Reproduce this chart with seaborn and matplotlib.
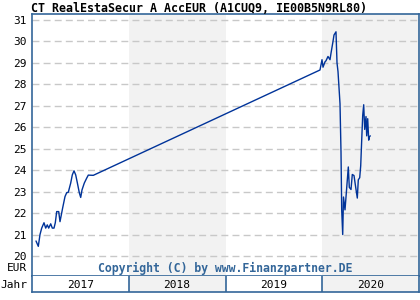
import matplotlib
matplotlib.use("Agg")
import matplotlib.pyplot as plt
import seaborn as sns
import pandas as pd

title = "CT RealEstaSecur A AccEUR (A1CUQ9, IE00B5N9RL80)"
years = ["2017", "2018", "2019", "2020"]
yticks = list(range(20, 32))

# time in fractional years since 2017-01-01
t = [0.0413, 0.0651, 0.0827, 0.1003, 0.1240, 0.1416, 0.1581, 0.1726, 0.1933,
     0.2098, 0.2274, 0.2408, 0.2553, 0.2760, 0.2894, 0.3173, 0.3411, 0.3587,
     0.3752, 0.4000, 0.4165, 0.4341, 0.4517, 0.4682, 0.4889, 0.5034, 0.5168,
     0.5406, 0.5654, 0.5819, 0.6336,
     2.9767, 2.9974, 3.0078, 3.0284, 3.0388, 3.0594, 3.0801, 3.0904, 3.1111,
     3.1214, 3.1421, 3.1525, 3.1628, 3.1835, 3.1938, 3.2010, 3.2114, 3.2196,
     3.2351, 3.2455, 3.2693, 3.2796, 3.2972, 3.3106, 3.3282, 3.3457, 3.3623,
     3.3726, 3.3871, 3.3974, 3.4078, 3.4181, 3.4284, 3.4388, 3.4522, 3.4594,
     3.4698, 3.4801, 3.4863, 3.4966]
price = [20.70, 20.45, 21.00, 21.30, 21.55, 21.30, 21.45, 21.30, 21.50,
         21.30, 21.30, 21.55, 22.07, 22.07, 21.60, 22.25, 22.77, 22.95,
         22.97, 23.40, 23.78, 23.97, 23.78, 23.42, 22.95, 22.73, 23.08,
         23.40, 23.63, 23.77, 23.76,
         28.67, 29.15, 28.80, 29.05, 29.10, 29.30, 29.15, 29.45, 30.00,
         30.30, 30.45, 29.00, 28.60, 27.10, 24.85, 22.15, 21.00, 22.75,
         22.15, 22.75, 24.15, 23.20, 23.10, 23.80, 23.75, 23.20, 22.70,
         23.55, 23.65, 24.20, 25.40, 26.55, 27.05, 25.90, 26.50, 25.60,
         26.40, 25.40, 25.55, 25.60]

df = pd.DataFrame({"t": [2017 + v for v in t], "price": price})

sns.set_theme(style="white")
plt.rcParams["font.family"] = ["DejaVu Sans Mono", "DejaVu Sans"]

frame = "#336699"
shade = "#f2f2f2"

fig = plt.figure(figsize=(4.2, 3.0), dpi=100)
W, H = 420, 300
ax = fig.add_axes([32 / W, 1 - 276 / H, 387 / W, 262 / H])
axb = fig.add_axes([32 / W, 1 - 292 / H, 387 / W, 16 / H])

for a in (ax, axb):
    a.set_xlim(2017, 2021)
    a.axvspan(2018, 2019, color=shade, lw=0, zorder=0)
    a.axvspan(2020, 2021, color=shade, lw=0, zorder=0)
    a.set_facecolor("white")
    for s in a.spines.values():
        s.set_color(frame)
        s.set_linewidth(1.2)

ax.set_ylim(20 - 20 / 21.45, 31 + 6 / 21.45)
for v in yticks:
    ax.axhline(v, color="#c8c8c8", lw=1.0, ls=(0, (5, 3)), zorder=1)

sns.lineplot(data=df, x="t", y="price", ax=ax, sort=False, estimator=None,
             color="#003399", lw=1.0, zorder=3)

ax.set_yticks(yticks)
ax.set_yticklabels([str(v) for v in yticks], fontsize=8, color="black")
ax.tick_params(axis="y", length=0, pad=4)
ax.set_xticks([])
ax.set_xlabel("")
ax.set_ylabel("")

ax.text(-0.012, 20 - 12 / 21.45, "EUR", transform=ax.get_yaxis_transform(),
        ha="right", va="center", fontsize=8, color="black")
ax.text(0.5, 20 - 12 / 21.45, "Copyright (C) by www.Finanzpartner.DE",
        transform=ax.get_yaxis_transform(), ha="center", va="center",
        fontsize=8.3, fontweight="bold", color="#336699", zorder=4)

axb.set_ylim(0, 1)
axb.set_yticks([])
axb.set_xticks([])
for i, y in enumerate(years):
    axb.text(2017.5 + i, 0.45, y, ha="center", va="center", fontsize=8, color="black")
    if i > 0:
        axb.axvline(2017 + i, color=frame, lw=1.2)
axb.text(-0.012, 0.45, "Jahr", transform=axb.transAxes, ha="right", va="center",
         fontsize=8, color="black")
axb.spines["top"].set_visible(False)

fig.text(31 / W, 1 - 9 / H, title, ha="left", va="center", fontsize=8.4,
         fontweight="bold", color="black")

fig.savefig("out.png", dpi=100)
